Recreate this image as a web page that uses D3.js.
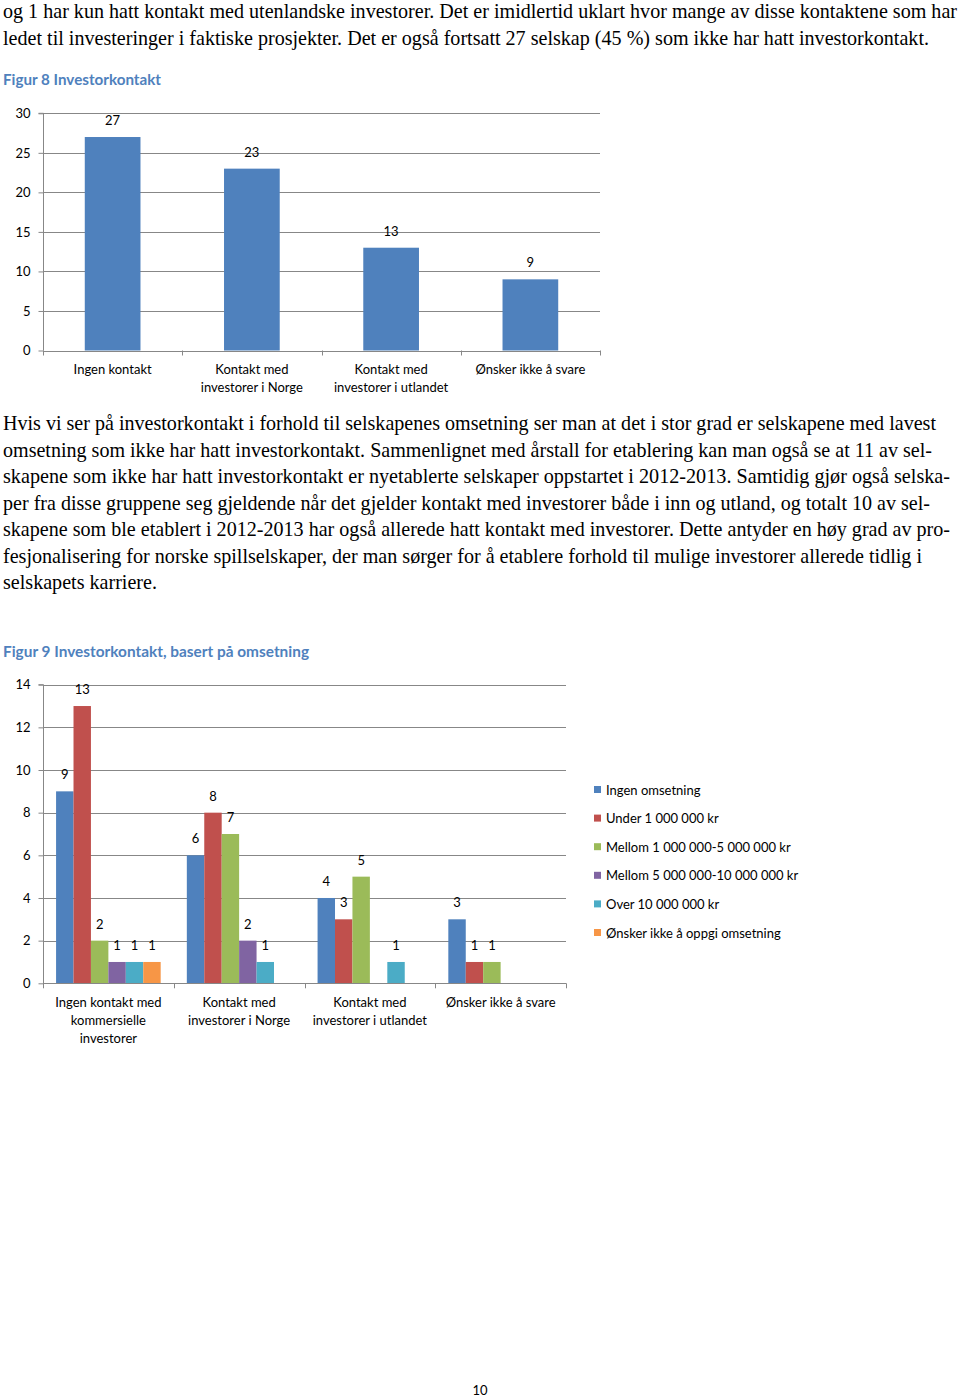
<!DOCTYPE html>
<html>
<head>
<meta charset="utf-8">
<script src="https://cdn.jsdelivr.net/npm/d3@7"></script>
<style>
  html, body { margin: 0; padding: 0; background: #fff; }
  svg { display: block; }
</style>
</head>
<body>
<svg id="page" width="960" height="1397"></svg>
<script>
// ---------- DATA ----------
const topLines = [
  "og 1 har kun hatt kontakt med utenlandske investorer. Det er imidlertid uklart hvor mange av disse kontaktene som har",
  "ledet til investeringer i faktiske prosjekter. Det er også fortsatt 27 selskap (45 %) som ikke har hatt investorkontakt."
];
const paraLines = [
  "Hvis vi ser på investorkontakt i forhold til selskapenes omsetning ser man at det i stor grad er selskapene med lavest",
  "omsetning som ikke har hatt investorkontakt. Sammenlignet med årstall for etablering kan man også se at 11 av sel-",
  "skapene som ikke har hatt investorkontakt er nyetablerte selskaper oppstartet i 2012-2013. Samtidig gjør også selska-",
  "per fra disse gruppene seg gjeldende når det gjelder kontakt med investorer både i inn og utland, og totalt 10 av sel-",
  "skapene som ble etablert i 2012-2013 har også allerede hatt kontakt med investorer. Dette antyder en høy grad av pro-",
  "fesjonalisering for norske spillselskaper, der man sørger for å etablere forhold til mulige investorer allerede tidlig i",
  "selskapets karriere."
];

const fig8Title = "Figur 8 Investorkontakt";
const fig8Categories = [["Ingen kontakt"], ["Kontakt med", "investorer i Norge"], ["Kontakt med", "investorer i utlandet"], ["Ønsker ikke å svare"]];
const fig8Values = [27, 23, 13, 9];
const fig8Ticks = [0, 5, 10, 15, 20, 25, 30];

const fig9Title = "Figur 9 Investorkontakt, basert på omsetning";
const fig9Categories = [["Ingen kontakt med", "kommersielle", "investorer"], ["Kontakt med", "investorer i Norge"], ["Kontakt med", "investorer i utlandet"], ["Ønsker ikke å svare"]];
const fig9Series = ["Ingen omsetning", "Under 1 000 000 kr", "Mellom 1 000 000-5 000 000 kr", "Mellom 5 000 000-10 000 000 kr", "Over 10 000 000 kr", "Ønsker ikke å oppgi omsetning"];
const ingenOmsetning = [9, 6, 4, 3];
const under1m = [13, 8, 3, 1];
const mellom1til5m = [2, 7, 5, 1];
const mellom5til10m = [1, 2, null, null];
const over10m = [1, 1, 1, null];
const onskerIkkeOppgi = [1, null, null, null];
const fig9Ticks = [0, 2, 4, 6, 8, 10, 12, 14];
const pageNumber = "10";

// ---------- LAYOUT / STYLE ----------
const serif = "'Liberation Serif', 'Times New Roman', serif";
const sans = "Lato, 'Open Sans', sans-serif";
const titleColor = "#4F81BD";
const gridColor = "#878787";
const seriesColors = ["#4F81BD", "#C0504D", "#9BBB59", "#8064A2", "#4BACC6", "#F79646"];
const topWidths = [954, 926];
const paraWidths = [933, 929, 947, 927, 947, 919, 154];

const svg = d3.select("#page");

// body text (condensed serif, as in the reference)
const baseSize = 17, targetSize = 21;
function drawLines(lines, widths, y0, step) {
  lines.forEach((t, i) => {
    svg.append("text")
      .attr("transform", `translate(3,${y0 + i * step}) scale(1,${targetSize / baseSize})`)
      .attr("x", 0).attr("y", 0)
      .attr("font-family", serif).attr("font-size", baseSize)
      .attr("fill", "#000")
      .attr("textLength", widths[i]).attr("lengthAdjust", "spacingAndGlyphs")
      .text(t);
  });
}
drawLines(topLines, topWidths, 18, 26.5);
drawLines(paraLines, paraWidths, 430, 26.5);

// titles
svg.append("text").attr("x", 3).attr("y", 85)
  .attr("font-family", sans).attr("font-weight", "bold").attr("font-size", 14.5)
  .attr("fill", titleColor).attr("textLength", 158).attr("lengthAdjust", "spacingAndGlyphs")
  .text(fig8Title);
svg.append("text").attr("x", 3).attr("y", 657)
  .attr("font-family", sans).attr("font-weight", "bold").attr("font-size", 14.5)
  .attr("fill", titleColor).attr("textLength", 306).attr("lengthAdjust", "spacingAndGlyphs")
  .text(fig9Title);

// ---------- FIGURE 8 ----------
(function () {
  const x = d3.scaleBand().domain(d3.range(fig8Values.length)).range([43, 600]).padding(0);
  const y = d3.scaleLinear().domain([0, 30]).range([350.5, 113.3]);
  const g = svg.append("g");

  g.selectAll("line.grid").data(fig8Ticks.filter(d => d > 0)).join("line")
    .attr("x1", 43).attr("x2", 600)
    .attr("y1", d => Math.round(y(d)) + 0.5).attr("y2", d => Math.round(y(d)) + 0.5)
    .attr("stroke", gridColor).attr("stroke-width", 1);

  const yAxis = d3.axisLeft(y).tickValues(fig8Ticks).tickSize(5).tickPadding(8);
  const ya = g.append("g").attr("transform", "translate(43.5,0)").call(yAxis);
  ya.select(".domain").attr("stroke", gridColor).attr("d", `M-5,${y(30)}H0V${y(0)}`);
  ya.selectAll(".tick line").attr("stroke", gridColor);
  ya.selectAll(".tick text").attr("font-family", sans).attr("font-size", 13).attr("fill", "#000");

  const bw = x.bandwidth() * 0.4;
  g.selectAll("rect.bar").data(fig8Values).join("rect")
    .attr("x", (d, i) => x(i) + (x.bandwidth() - bw) / 2)
    .attr("y", d => y(d)).attr("width", bw).attr("height", d => y(0) - y(d))
    .attr("fill", seriesColors[0]);

  g.selectAll("text.val").data(fig8Values).join("text")
    .attr("x", (d, i) => x(i) + x.bandwidth() / 2).attr("y", d => y(d) - 12)
    .attr("text-anchor", "middle").attr("font-family", sans).attr("font-size", 13)
    .text(d => d);

  g.append("line").attr("x1", 43).attr("x2", 600).attr("y1", Math.round(y(0)) + 0.5).attr("y2", Math.round(y(0)) + 0.5)
    .attr("stroke", gridColor);
  d3.range(fig8Values.length + 1).forEach(i => {
    const xx = i < fig8Values.length ? x(i) : x.range()[1];
    g.append("line").attr("x1", Math.round(xx) + 0.5).attr("x2", Math.round(xx) + 0.5)
      .attr("y1", y(0)).attr("y2", y(0) + 5).attr("stroke", gridColor);
  });
  fig8Categories.forEach((lines, i) => {
    lines.forEach((t, j) => {
      g.append("text").attr("x", x(i) + x.bandwidth() / 2).attr("y", 374 + j * 18)
        .attr("text-anchor", "middle").attr("font-family", sans).attr("font-size", 13).text(t);
    });
  });
})();

// ---------- FIGURE 9 ----------
(function () {
  const seriesValues = [ingenOmsetning, under1m, mellom1til5m, mellom5til10m, over10m, onskerIkkeOppgi];
  const x0 = d3.scaleBand().domain(d3.range(fig9Categories.length)).range([43, 566]).padding(0);
  const x1 = d3.scaleBand().domain(d3.range(fig9Series.length)).range([0, x0.bandwidth()]).paddingOuter(0.75).paddingInner(0);
  const y = d3.scaleLinear().domain([0, 14]).range([983.3, 684.7]);
  const g = svg.append("g");

  g.selectAll("line.grid").data(fig9Ticks.filter(d => d > 0)).join("line")
    .attr("x1", 43).attr("x2", 566)
    .attr("y1", d => Math.round(y(d)) + 0.5).attr("y2", d => Math.round(y(d)) + 0.5)
    .attr("stroke", gridColor);

  const yAxis = d3.axisLeft(y).tickValues(fig9Ticks).tickSize(5).tickPadding(8);
  const ya = g.append("g").attr("transform", "translate(43.5,0)").call(yAxis);
  ya.select(".domain").attr("stroke", gridColor).attr("d", `M-5,${y(14)}H0V${y(0)}`);
  ya.selectAll(".tick line").attr("stroke", gridColor);
  ya.selectAll(".tick text").attr("font-family", sans).attr("font-size", 13).attr("fill", "#000");

  const flat = [];
  seriesValues.forEach((vals, s) => vals.forEach((v, c) => { if (v != null) flat.push({ s, c, v }); }));

  g.selectAll("rect.bar").data(flat).join("rect")
    .attr("x", d => x0(d.c) + x1(d.s)).attr("y", d => y(d.v))
    .attr("width", x1.bandwidth()).attr("height", d => y(0) - y(d.v))
    .attr("fill", d => seriesColors[d.s]);

  g.selectAll("text.val").data(flat).join("text")
    .attr("x", d => x0(d.c) + x1(d.s) + x1.bandwidth() / 2).attr("y", d => y(d.v) - 12)
    .attr("text-anchor", "middle").attr("font-family", sans).attr("font-size", 13)
    .text(d => d.v);

  g.append("line").attr("x1", 43).attr("x2", 566).attr("y1", Math.round(y(0)) + 0.5).attr("y2", Math.round(y(0)) + 0.5)
    .attr("stroke", gridColor);
  d3.range(fig9Categories.length + 1).forEach(i => {
    const xx = i < fig9Categories.length ? x0(i) : x0.range()[1];
    g.append("line").attr("x1", Math.round(xx) + 0.5).attr("x2", Math.round(xx) + 0.5)
      .attr("y1", y(0)).attr("y2", y(0) + 5).attr("stroke", gridColor);
  });
  fig9Categories.forEach((lines, i) => {
    lines.forEach((t, j) => {
      g.append("text").attr("x", x0(i) + x0.bandwidth() / 2).attr("y", 1007 + j * 18)
        .attr("text-anchor", "middle").attr("font-family", sans).attr("font-size", 13).text(t);
    });
  });

  const lg = g.append("g");
  fig9Series.forEach((name, i) => {
    const yy = 790 + i * 28.6;
    lg.append("rect").attr("x", 594).attr("y", yy - 4).attr("width", 7).attr("height", 7).attr("fill", seriesColors[i]);
    lg.append("text").attr("x", 606).attr("y", yy + 4.5).attr("font-family", sans).attr("font-size", 13).text(name);
  });
})();

svg.append("text").attr("x", 480).attr("y", 1395).attr("text-anchor", "middle")
  .attr("font-family", sans).attr("font-size", 13).text(pageNumber);
</script>
</body>
</html>
